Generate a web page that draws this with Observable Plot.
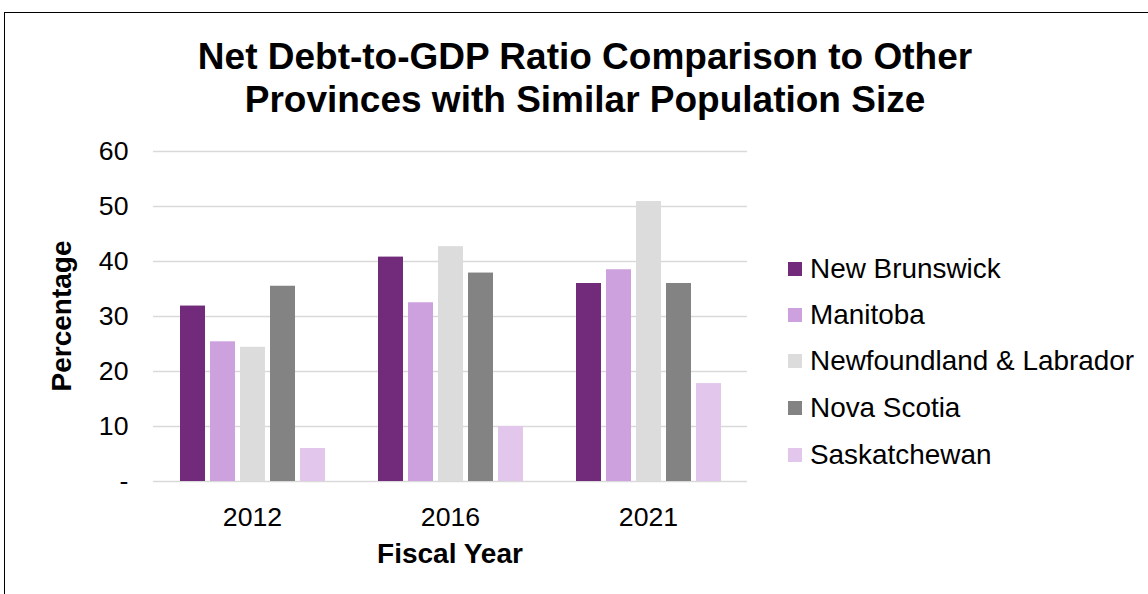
<!DOCTYPE html>
<html><head><meta charset="utf-8">
<script src="https://cdn.jsdelivr.net/npm/d3@7"></script>
<script src="https://cdn.jsdelivr.net/npm/@observablehq/plot@0.6"></script>
<style>
body{margin:0;background:#fff;font-family:"Liberation Sans",Arial,sans-serif;color:#000;}
#wrap{position:relative;width:1148px;height:594px;overflow:hidden;background:#fff;}
#frame{position:absolute;left:4px;top:12px;width:2000px;height:2000px;border-top:1.5px solid #000;border-left:1.5px solid #000;pointer-events:none;}
#title{position:absolute;left:0;top:35px;width:1170px;text-align:center;font-weight:bold;font-size:37px;line-height:43px;}
#ylabel{position:absolute;left:62px;top:316px;transform:translate(-50%,-50%) rotate(-90deg);font-weight:bold;font-size:28px;white-space:nowrap;line-height:1;}
#xlabel{position:absolute;left:450px;top:554px;transform:translate(-50%,-50%);font-weight:bold;font-size:28px;white-space:nowrap;line-height:1;}
.lg{position:absolute;left:788px;height:30px;display:flex;align-items:center;font-size:27.9px;white-space:nowrap;line-height:1;}
.lg i{display:inline-block;width:14px;height:14px;margin-right:8px;}
#chart{position:absolute;left:0;top:0;}
</style></head><body><div id="wrap"><div id="chart"></div></div>
<script>
const years = ["2012", "2016", "2021"];
const provinces = ["New Brunswick", "Manitoba", "Newfoundland & Labrador", "Nova Scotia", "Saskatchewan"];
const colors = ["#722B7B", "#CDA1DD", "#DCDCDC", "#838383", "#E2C6EB"];
const newBrunswick = [31.9, 40.8, 36.0];
const manitoba = [25.4, 32.5, 38.5];
const newfoundland = [24.4, 42.7, 50.9];
const novaScotia = [35.5, 37.9, 36.0];
const saskatchewan = [6.0, 10.0, 17.8];
const yTicks = [0, 10, 20, 30, 40, 50, 60];

const series = [newBrunswick, manitoba, newfoundland, novaScotia, saskatchewan];
const table = [];
years.forEach((yr, i) => provinces.forEach((p, j) => table.push({year: yr, province: p, value: series[j][i]})));

const plot = Plot.plot({
  width: 1148,
  height: 594,
  marginLeft: 153,
  marginRight: 401,
  marginTop: 151,
  marginBottom: 113,
  style: {fontFamily: "'Liberation Sans', Arial, sans-serif", fontSize: "26.67px", color: "#000", background: "transparent"},
  fx: {domain: years, padding: 0},
  x: {domain: provinces, paddingInner: 0.167, paddingOuter: 0.883, axis: null},
  y: {domain: [0, 60]},
  color: {domain: provinces, range: colors},
  marks: [
    Plot.gridY(yTicks, {stroke: "#d9d9d9", strokeOpacity: 1, strokeWidth: 1.5}),
    Plot.barY(table, {fx: "year", x: "province", y: "value", fill: "province"}),
    Plot.axisY({ticks: yTicks, tickFormat: d => d === 0 ? "-" : String(d), tickSize: 0, tickPadding: 25, label: null}),
    Plot.axisFx({tickSize: 0, tickPadding: 26, label: null, anchor: "bottom"})
  ]
});
document.getElementById("chart").appendChild(plot);

const wrap = document.getElementById("wrap");
const frame = document.createElement("div"); frame.id = "frame"; wrap.appendChild(frame);
const title = document.createElement("div"); title.id = "title";
title.innerHTML = "Net Debt-to-GDP Ratio Comparison to Other<br>Provinces with Similar Population Size";
wrap.appendChild(title);
const yl = document.createElement("div"); yl.id = "ylabel"; yl.textContent = "Percentage"; wrap.appendChild(yl);
const xl = document.createElement("div"); xl.id = "xlabel"; xl.textContent = "Fiscal Year"; wrap.appendChild(xl);
const rowY = [269, 315, 361, 408, 455];
provinces.forEach((p, j) => {
  const d = document.createElement("div"); d.className = "lg";
  d.style.top = (rowY[j] - 15) + "px";
  d.innerHTML = `<i style="background:${colors[j]}"></i><span></span>`;
  d.querySelector("span").textContent = p;
  wrap.appendChild(d);
});
</script></body></html>
